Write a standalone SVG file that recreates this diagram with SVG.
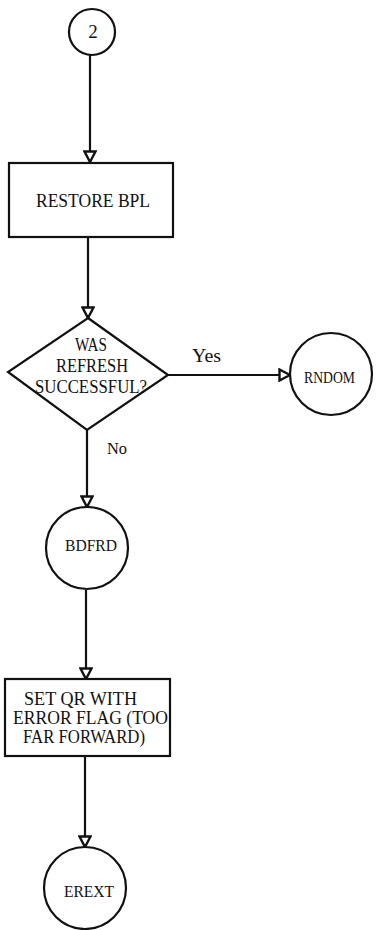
<svg xmlns="http://www.w3.org/2000/svg" width="377" height="930" viewBox="0 0 377 930">
<style>
.shape{fill:none;stroke:#111;stroke-width:2.2}
.conn{fill:none;stroke:#111;stroke-width:2.2}
.mono{font-family:"Liberation Serif","DejaVu Serif",serif;font-size:18px;fill:#111}
.serif{font-family:"Liberation Serif","DejaVu Serif",serif;font-size:17px;fill:#111}
.big{font-size:19px}
</style>
<defs>
<marker id="arr" viewBox="-2 -7 14 14" markerWidth="14" markerHeight="14" markerUnits="userSpaceOnUse" refX="11" refY="0" orient="auto">
<path d="M0.5,-5.5 L11,0 L0.5,5.5 Z" fill="#fff" stroke="#111" stroke-width="2.4" stroke-linejoin="miter"/>
</marker>
</defs>
<rect width="377" height="930" fill="#fff"/>
<g id="connectors">
<line class="conn" x1="90" y1="55" x2="90" y2="162" marker-end="url(#arr)"/>
<line class="conn" x1="88" y1="237" x2="88" y2="318" marker-end="url(#arr)"/>
<line class="conn" x1="168" y1="375" x2="290" y2="375" marker-end="url(#arr)"/>
<line class="conn" x1="87" y1="430" x2="87" y2="507" marker-end="url(#arr)"/>
<line class="conn" x1="86" y1="590" x2="86" y2="679" marker-end="url(#arr)"/>
<line class="conn" x1="85" y1="756" x2="85" y2="847" marker-end="url(#arr)"/>
<text class="mono" x="192" y="362" textLength="29" lengthAdjust="spacingAndGlyphs">Yes</text>
<text class="serif" x="107" y="454" textLength="20" lengthAdjust="spacingAndGlyphs">No</text>
</g>
<g id="n2">
<circle class="shape" cx="92" cy="32" r="23"/>
<text class="serif big" x="93" y="38" text-anchor="middle">2</text>
</g>
<g id="restore">
<rect class="shape" x="9" y="163" width="164" height="74"/>
<text class="mono" x="93" y="207" text-anchor="middle" textLength="114" lengthAdjust="spacingAndGlyphs">RESTORE BPL</text>
</g>
<g id="decision">
<polygon class="shape" points="88,318 168,375 87,430 8,372"/>
<text class="mono" x="91" y="351" text-anchor="middle" textLength="32" lengthAdjust="spacingAndGlyphs">WAS</text>
<text class="mono" x="92" y="372" text-anchor="middle" textLength="72" lengthAdjust="spacingAndGlyphs">REFRESH</text>
<text class="mono" x="91" y="393" text-anchor="middle" textLength="112" lengthAdjust="spacingAndGlyphs">SUCCESSFUL?</text>
</g>
<g id="rndom">
<circle class="shape" cx="331" cy="374" r="41"/>
<text class="serif" x="329.5" y="383" text-anchor="middle" textLength="51" lengthAdjust="spacingAndGlyphs">RNDOM</text>
</g>
<g id="bdfrd">
<circle class="shape" cx="87" cy="548" r="41"/>
<text class="serif" x="91" y="551" text-anchor="middle" textLength="52" lengthAdjust="spacingAndGlyphs">BDFRD</text>
</g>
<g id="setqr">
<rect class="shape" x="5" y="679" width="165" height="77"/>
<text class="mono" x="24" y="705" textLength="113" lengthAdjust="spacingAndGlyphs">SET QR WITH</text>
<text class="mono" x="13" y="724" textLength="155" lengthAdjust="spacingAndGlyphs">ERROR FLAG (TOO</text>
<text class="mono" x="23" y="743" textLength="122" lengthAdjust="spacingAndGlyphs">FAR FORWARD)</text>
</g>
<g id="erext">
<circle class="shape" cx="85" cy="888" r="41"/>
<text class="serif" x="89" y="897" text-anchor="middle" textLength="50" lengthAdjust="spacingAndGlyphs">EREXT</text>
</g>
</svg>
